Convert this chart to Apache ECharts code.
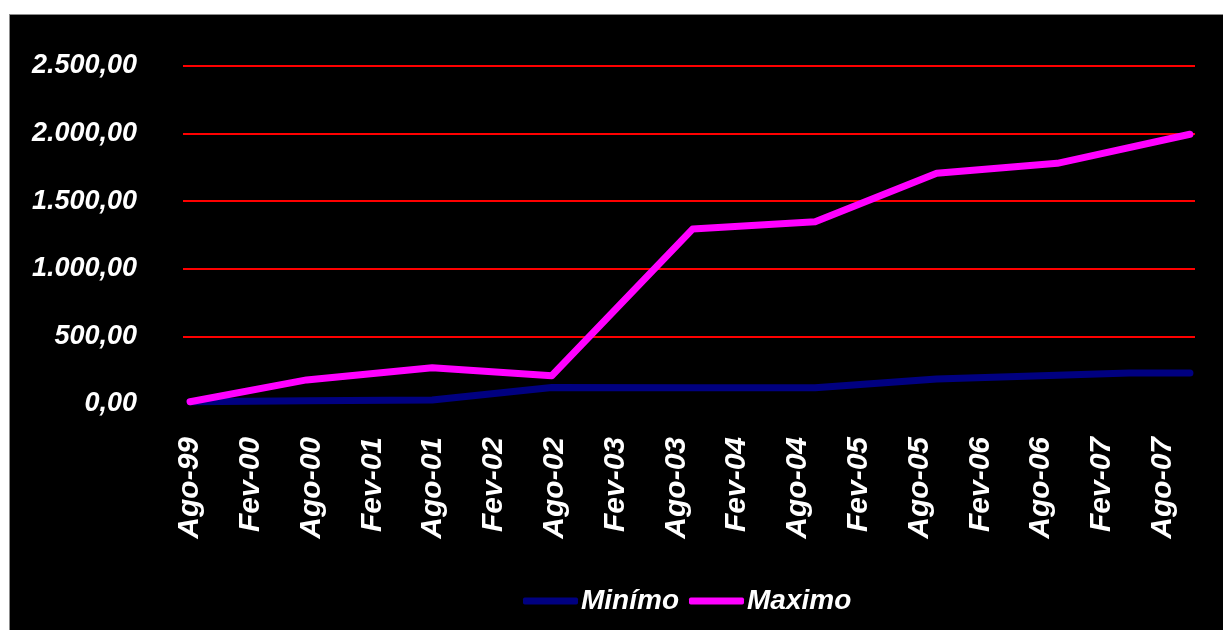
<!DOCTYPE html>
<html>
<head>
<meta charset="utf-8">
<script src="https://cdn.jsdelivr.net/npm/echarts@6/dist/echarts.min.js"></script>
<style>
  html, body { margin: 0; padding: 0; background: #ffffff; }
  #moldura {
    position: absolute; left: 9px; top: 14px; right: 0; bottom: 0;
    background: #000000; border-left: 1px solid #8c8c8c; border-top: 1px solid #8c8c8c;
  }
  #grafico { position: absolute; left: 0; top: 0; width: 1223px; height: 630px; }
</style>
</head>
<body>
<div id="moldura"></div>
<div id="grafico"></div>
<script>
// Rótulos semestrais do eixo horizontal (meses contados a partir de Ago-99)
const rotulosEixo = ['Ago-99', 'Fev-00', 'Ago-00', 'Fev-01', 'Ago-01', 'Fev-02', 'Ago-02', 'Fev-03',
  'Ago-03', 'Fev-04', 'Ago-04', 'Fev-05', 'Ago-05', 'Fev-06', 'Ago-06', 'Fev-07', 'Ago-07'];
const mesesRotulos = [0, 6, 12, 18, 24, 30, 36, 42, 48, 54, 60, 66, 72, 78, 84, 90, 96];

// Série "Minímo": mês (desde Ago-99) e valor
const mesesMinimo = [0, 11.5, 23.9, 35.7, 49.6, 61.7, 73.7, 85.6, 92.7, 98.7];
const valoresMinimo = [17, 24, 30, 122, 120, 120, 185, 212, 229, 229];

// Série "Maximo": mês (desde Ago-99) e valor
const mesesMaximo = [0, 11.5, 23.9, 35.7, 49.6, 61.7, 73.7, 85.6, 98.7];
const valoresMaximo = [17, 178, 268, 209, 1294, 1348, 1706, 1780, 1995];

const pares = (xs, ys) => xs.map((x, i) => [x, ys[i]]);

const fonte = "'Liberation Sans', Arial, sans-serif";
const formatoBR = v => v.toLocaleString('pt-BR', { minimumFractionDigits: 2, maximumFractionDigits: 2 });

const chart = echarts.init(document.getElementById('grafico'), null, { renderer: 'canvas' });
chart.setOption({
  backgroundColor: 'transparent',
  animation: false,
  grid: { left: 183, right: 28, top: 66, bottom: 226, containLabel: false },
  xAxis: {
    type: 'value',
    min: -0.7,
    max: 99.2,
    axisLine: { show: false },
    axisTick: { show: false },
    splitLine: { show: false },
    axisLabel: {
      customValues: mesesRotulos,
      rotate: 90,
      margin: 33,
      color: '#ffffff',
      fontFamily: fonte,
      fontSize: 30,
      fontWeight: 'bold',
      fontStyle: 'italic',
      formatter: v => {
        const i = mesesRotulos.indexOf(Math.round(v));
        return i >= 0 ? rotulosEixo[i] : '';
      }
    }
  },
  yAxis: {
    type: 'value',
    min: 0,
    max: 2500,
    interval: 500,
    axisLine: { show: false },
    axisTick: { show: false },
    splitLine: { show: true, showMinLine: false, lineStyle: { color: '#ff0000', width: 2 } },
    axisLabel: {
      margin: 46,
      color: '#ffffff',
      fontFamily: fonte,
      fontSize: 27,
      fontWeight: 'bold',
      fontStyle: 'italic',
      formatter: formatoBR
    }
  },
  legend: {
    left: 518,
    top: 582,
    icon: 'roundRect',
    itemWidth: 55,
    itemHeight: 7,
    itemGap: 10,
    textStyle: {
      color: '#ffffff',
      fontFamily: fonte,
      fontSize: 28,
      fontWeight: 'bold',
      fontStyle: 'italic',
      padding: [0, 0, 0, -2]
    },
    data: ['Minímo', 'Maximo']
  },
  series: [
    {
      name: 'Minímo',
      type: 'line',
      data: pares(mesesMinimo, valoresMinimo),
      showSymbol: false,
      symbol: 'none',
      color: '#000080',
      lineStyle: { color: '#000080', width: 7, cap: 'round', join: 'round' },
      z: 3
    },
    {
      name: 'Maximo',
      type: 'line',
      data: pares(mesesMaximo, valoresMaximo),
      showSymbol: false,
      symbol: 'none',
      color: '#ff00ff',
      lineStyle: { color: '#ff00ff', width: 7, cap: 'round', join: 'round' },
      z: 4
    }
  ]
});
</script>
</body>
</html>
